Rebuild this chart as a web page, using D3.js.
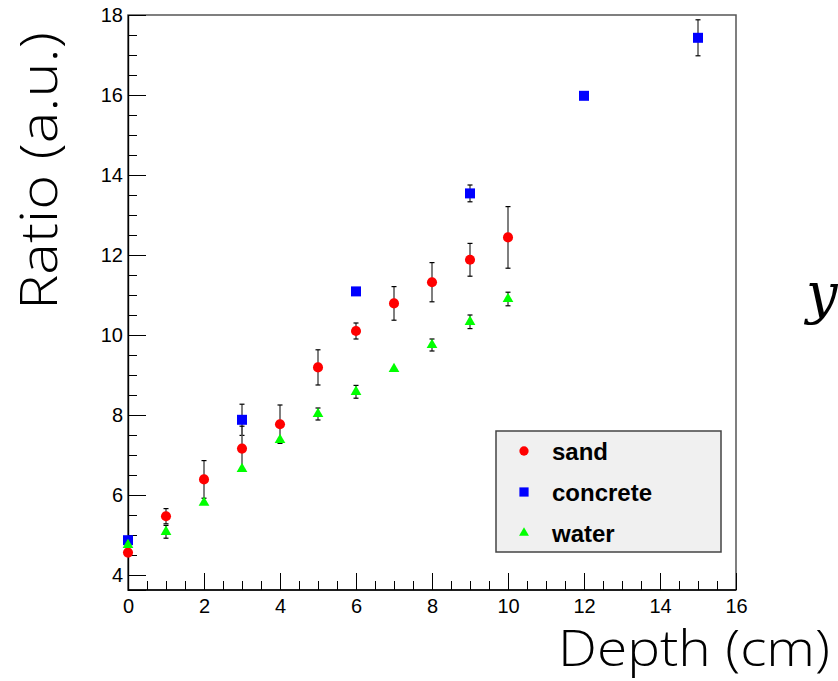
<!DOCTYPE html>
<html><head><meta charset="utf-8">
<script src="https://cdn.jsdelivr.net/npm/d3@7"></script>
<style>
html,body{margin:0;padding:0;background:#fff;}
svg{display:block;}
</style></head>
<body>
<script>
// ---- data ----
const depthSand = [0,1,2,3,4,5,6,7,8,9,10];
const sandRatio = [4.56,5.47,6.39,7.16,7.77,9.19,10.10,10.79,11.32,11.88,12.44];
const sandErr   = [0,0.19,0.47,0.56,0.48,0.44,0.20,0.42,0.49,0.41,0.77];

const depthConcrete = [0,3,6,9,12,15];
const concreteRatio = [4.87,7.88,11.09,13.54,15.98,17.43];
const concreteErr   = [0,0.39,0,0.21,0,0.45];

const depthWater = [0,1,2,3,4,5,6,7,8,9,10];
const waterRatio = [4.75,5.08,5.81,6.65,7.375,8.025,8.58,9.15,9.75,10.33,10.90];
const waterErr   = [0,0.16,0,0,0,0.15,0.16,0,0.15,0.17,0.17];

const xMajorTicks = [0,2,4,6,8,10,12,14,16];
const yMajorTicks = [4,6,8,10,12,14,16,18];
const xLabel = "Depth (cm)";
const yLabel = "Ratio (a.u.)";
const legendNames = ["sand","concrete","water"];

// ---- layout ----
const W = 838, H = 681;
const L = 128, R = 736, T = 15, B = 590;

const svg = d3.select("body").append("svg").attr("width", W).attr("height", H);

const x = d3.scaleLinear().domain([0,16]).range([L,R]);
const y = d3.scaleLinear().domain([3.625,18]).range([B,T]);

const fontTick = "'Liberation Sans', Arial, Helvetica, sans-serif";
const fontTitle = "'Open Sans', 'Liberation Sans', sans-serif";

// frame
svg.append("rect").attr("x",L).attr("y",T).attr("width",R-L).attr("height",B-T)
  .attr("fill","none").attr("stroke","#555").attr("stroke-width",1.5);

// minor ticks
const xMinor = d3.range(0,16.01,0.5).filter(v => v % 2 !== 0);
const yMinor = d3.range(4,18.01,0.5).filter(v => v % 2 !== 0);

const gxMinor = svg.append("g").attr("transform",`translate(0,${B})`)
  .call(d3.axisBottom(x).tickValues(xMinor).tickSize(-9).tickFormat(""));
const gx = svg.append("g").attr("transform",`translate(0,${B})`)
  .call(d3.axisBottom(x).tickValues(xMajorTicks).tickSize(-17).tickPadding(9).tickFormat(d3.format("d")));
const gyMinor = svg.append("g").attr("transform",`translate(${L},0)`)
  .call(d3.axisLeft(y).tickValues(yMinor).tickSize(-9).tickFormat(""));
const gy = svg.append("g").attr("transform",`translate(${L},0)`)
  .call(d3.axisLeft(y).tickValues(yMajorTicks).tickSize(-18).tickPadding(5).tickFormat(d3.format("d")));

[gxMinor,gx,gyMinor,gy].forEach(g => {
  g.selectAll(".domain").attr("stroke","#000").attr("stroke-width",1.2);
  g.selectAll(".tick line").attr("stroke","#000").attr("stroke-width",1);
  g.selectAll("text").attr("font-family",fontTick).attr("font-size",20).attr("fill","#000");
});
gx.select(".domain").attr("d",`M${L},0H${R}`);
gxMinor.select(".domain").attr("d",`M${L},0H${R}`);

// series
const series = [
  {name:"concrete", xs:depthConcrete, ys:concreteRatio, es:concreteErr, color:"#0000ff", sym:d3.symbolSquare, size:100},
  {name:"sand", xs:depthSand, ys:sandRatio, es:sandErr, color:"#ff0000", sym:d3.symbolCircle, size:80},
  {name:"water", xs:depthWater, ys:waterRatio, es:waterErr, color:"#00ff00", sym:d3.symbolTriangle, size:50}
];

series.forEach(s => {
  const pts = s.xs.map((d,i)=>({x:d, y:s.ys[i], e:s.es[i]}));
  const g = svg.append("g");
  const eb = pts.filter(p => p.e > 0);
  g.selectAll("line.eb").data(eb).join("line")
    .attr("x1",p=>x(p.x)).attr("x2",p=>x(p.x))
    .attr("y1",p=>y(p.y-p.e)).attr("y2",p=>y(p.y+p.e))
    .attr("stroke","#555").attr("stroke-width",1.5);
  ["top","bot"].forEach(k => {
    g.selectAll("line.cap"+k).data(eb).join("line")
      .attr("x1",p=>x(p.x)-2.5).attr("x2",p=>x(p.x)+2.5)
      .attr("y1",p=>y(k==="top"?p.y+p.e:p.y-p.e)).attr("y2",p=>y(k==="top"?p.y+p.e:p.y-p.e))
      .attr("stroke","#000").attr("stroke-width",1.2);
  });
  g.selectAll("path.m").data(pts).join("path")
    .attr("transform",p=>`translate(${x(p.x)},${y(p.y)})`)
    .attr("d", d3.symbol(s.sym, s.size)())
    .attr("fill", s.color);
});

// legend
const lg = svg.append("g");
lg.append("rect").attr("x",496).attr("y",431).attr("width",225).attr("height",121)
  .attr("fill","#f0f0f0").attr("stroke","#444").attr("stroke-width",1.5);
legendNames.forEach((nm,i) => {
  const s = series.find(t => t.name === nm);
  const cy = 451 + i*41;
  lg.append("path").attr("transform",`translate(524,${cy})`)
    .attr("d", d3.symbol(s.sym, s.size*0.85)()).attr("fill", s.color);
  lg.append("text").attr("x",552).attr("y",cy).attr("dy","0.36em")
    .attr("font-family",fontTick).attr("font-weight","bold").attr("font-size",24)
    .attr("fill","#000").text(nm);
});

// axis titles
svg.append("text").attr("x",830).attr("y",666).attr("text-anchor","end")
  .attr("font-family",fontTitle).attr("font-weight",300).attr("font-size",49)
  .attr("textLength",272).attr("lengthAdjust","spacingAndGlyphs")
  .attr("fill","#000").text(xLabel);
svg.append("text").attr("transform","translate(57,32) rotate(-90)").attr("text-anchor","end")
  .attr("font-family",fontTitle).attr("font-weight",300).attr("font-size",52)
  .attr("textLength",278).attr("lengthAdjust","spacingAndGlyphs")
  .attr("fill","#000").text(yLabel);

// italic y at right edge
svg.append("text").attr("x",806).attr("y",313)
  .attr("font-family","'DejaVu Serif','Liberation Serif',serif").attr("font-style","italic")
  .attr("font-size",56).attr("fill","#000").text("y");
</script>
</body></html>
